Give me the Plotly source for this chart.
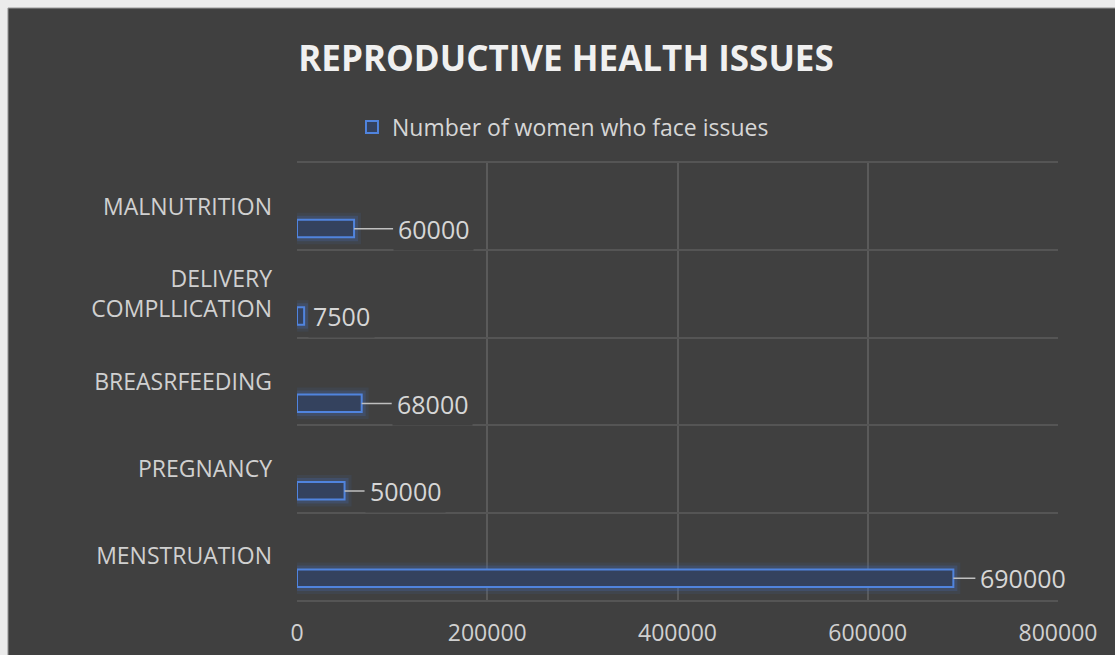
import plotly.graph_objects as go

# Issue categories (bottom to top) and the number of women affected
categories = ["MENSTRUATION", "PREGNANCY", "BREASRFEEDING",
              "DELIVERY<br>COMPLLICATION", "MALNUTRITION"]
women_counts = [690000, 50000, 68000, 7500, 60000]
series_name = "Number of women who face issues"
x_ticks = [0, 200000, 400000, 600000, 800000]

# leader-line lengths (px) for the value labels; 0 = label sits next to the bar
label_gap = [22, 20, 30, 0, 39]

FONT = "Open Sans"
BAR_OFFSET = -0.35   # bars sit in the lower half of each category band
BAR_WIDTH = 0.2

fig = go.Figure()

# soft glow behind the bars
for w, a in [(14, 0.10), (8, 0.22)]:
    fig.add_trace(go.Bar(
        x=women_counts, y=categories, orientation="h",
        width=BAR_WIDTH, offset=BAR_OFFSET,
        marker=dict(color="rgba(68,114,196,0.12)",
                    line=dict(color=f"rgba(68,114,196,{a})", width=w)),
        showlegend=False, hoverinfo="skip",
    ))

fig.add_trace(go.Bar(
    x=women_counts, y=categories, orientation="h",
    width=BAR_WIDTH, offset=BAR_OFFSET, name=series_name,
    marker=dict(color="#34425e", line=dict(color="#5084de", width=2)),
))

# value labels with leader lines
for cat, val, gap in zip(categories, women_counts, label_gap):
    common = dict(x=val, y=cat, yshift=-22, text=str(val), xanchor="left",
                  font=dict(family=FONT, size=25, color="#d6d6d6"),
                  bgcolor="#404040", borderpad=4)
    if gap > 0:
        fig.add_annotation(**common, showarrow=True, arrowhead=0,
                           arrowwidth=1.5, arrowcolor="#bfbfbf",
                           ax=gap, ay=0, standoff=0)
    else:
        fig.add_annotation(**common, showarrow=False, xshift=4)

# dark chart area with a light frame around it
fig.add_shape(type="rect", xref="paper", yref="paper",
              x0=-0.3798, x1=1.2, y0=-0.2, y1=1.3547,
              fillcolor="#404040", line=dict(color="#9a9a9a", width=1),
              layer="below")

fig.update_layout(
    width=1115, height=655,
    paper_bgcolor="#ebebeb", plot_bgcolor="#404040",
    margin=dict(l=297, r=57, t=163, b=55, autoexpand=False),
    barmode="overlay",
    font=dict(family=FONT, color="#d6d6d6"),
    title=dict(text="<b>REPRODUCTIVE HEALTH ISSUES</b>",
               x=0.5076, xanchor="center", y=0.911, yanchor="middle",
               font=dict(family=FONT, size=35, color="#f0f0f0")),
    legend=dict(orientation="h", x=0.3495, xanchor="center",
                y=1.082, yanchor="middle", bgcolor="rgba(0,0,0,0)",
                font=dict(family=FONT, size=23, color="#d6d6d6"),
                itemwidth=30),
    showlegend=True,
    xaxis=dict(range=[0, 800000], tickvals=x_ticks,
               ticktext=[str(v) for v in x_ticks], automargin=False,
               showgrid=True, gridcolor="#5a5a5a", gridwidth=1.5,
               zeroline=False, showline=True, mirror=True,
               linecolor="#555555", linewidth=1.5,
               ticks="", ticklabelstandoff=12,
               tickfont=dict(family=FONT, size=23, color="#d0d0d0")),
    yaxis=dict(type="category", categoryorder="array", categoryarray=categories,
               range=[-0.5, 4.5], tickson="boundaries", automargin=False,
               showgrid=True, gridcolor="#555555", gridwidth=1.5,
               showline=False, zeroline=False,
               ticks="", ticklabelstandoff=24,
               tickfont=dict(family=FONT, size=23, color="#d0d0d0")),
)

fig.write_html("out.html")
